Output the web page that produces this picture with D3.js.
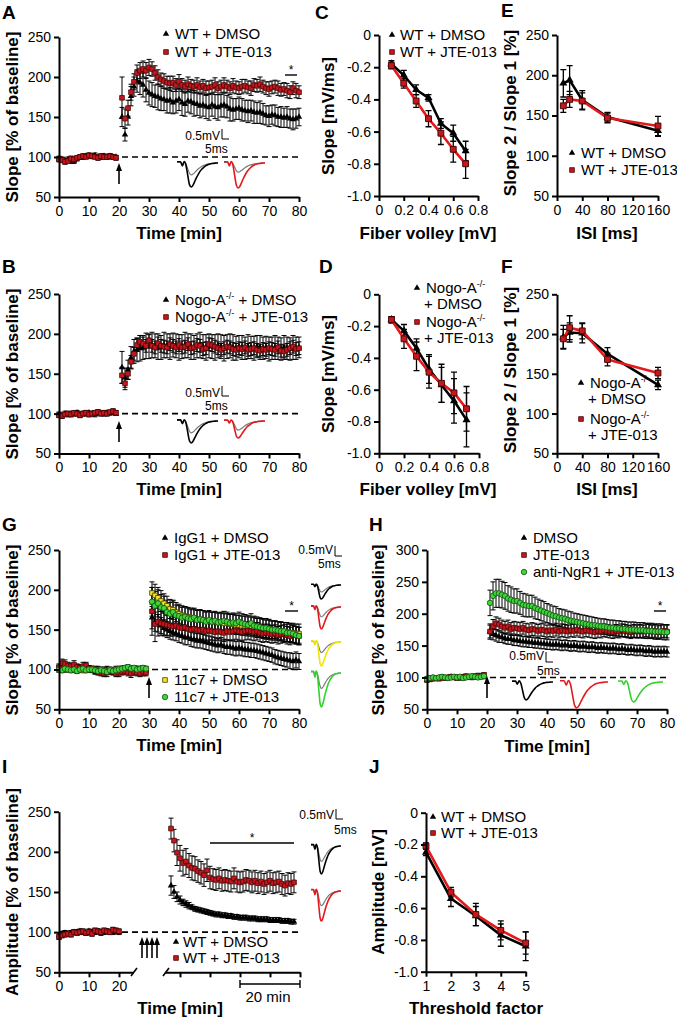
<!DOCTYPE html>
<html>
<head>
<meta charset="utf-8">
<script src="https://cdn.jsdelivr.net/npm/d3@7"></script>
<style>
body { margin: 0; background: #fff; }
svg { font-family: "Liberation Sans", Arial, sans-serif; }
.axis path, .axis line { stroke: #000; stroke-width: 2; }
.axis text { font-family: "Liberation Sans", Arial, sans-serif; font-size: 14px; fill: #000; }
.lab { font-weight: bold; font-size: 19px; }
.ttl { font-weight: bold; font-size: 17px; }
.leg { font-size: 15px; }
.small { font-size: 12px; }
</style>
</head>
<body>
<svg width="677" height="1020"></svg>
<script>
// ---------- data ----------
// A: WT, slope time course (0-19 baseline, 21-80 after HFS)
const aTime = d3.range(0, 20).concat(d3.range(21, 81));
const aDmso = [
  98,97,96,97,96,95,98,99,100,101, 102,101,102,100,100,101,100,101,100,100,
  150,128,150,176,188,195,193,190,184,180, 178,176,175,173,172,170,171,168,170,172,
  168,166,170,169,167,166,164,165,163,162, 165,163,162,164,165,163,160,159,160,161,
  159,158,157,158,156,155,156,154,152,151, 153,152,150,150,149,150,148,147,148,150];
const aDmsoErr = [
  3,3,2,3,4,3,3,2,3,3, 2,3,3,2,3,3,2,3,3,2,
  12,8,10,12,12,14,15,15,15,15, 15,14,16,15,14,15,16,14,15,14,
  16,15,14,15,16,14,15,14,15,16, 14,15,16,14,15,14,15,14,13,14,
  14,13,14,13,14,13,14,13,12,13, 12,13,12,13,12,13,12,13,12,11];
const aJte = [
  97,96,94,95,98,97,99,100,101,100, 102,101,100,99,101,100,100,101,100,99,
  174,148,161,181,194,205,208,210,208,212, 210,205,200,197,195,193,192,193,190,194,
  190,188,191,189,188,190,187,189,186,187, 188,190,186,188,190,188,186,189,187,186,
  188,189,187,186,190,189,191,188,186,185, 187,188,186,184,185,183,181,186,183,181];
const aJteErr = [
  3,3,3,2,3,3,2,3,3,2, 3,3,2,3,3,2,3,3,2,3,
  26,12,10,10,10,10,10,10,10,10, 9,9,9,8,9,8,9,8,8,9,
  8,8,9,8,8,9,8,8,9,8, 8,9,8,8,9,8,8,9,8,8,
  9,8,8,9,8,8,9,8,8,9, 8,8,9,8,8,9,8,8,9,8];

// B: Nogo-A-/-, slope time course
const bTime = d3.range(0, 20).concat(d3.range(21, 81));
const bDmso = [
  99,98,100,99,100,100,101,99,100,100, 101,100,99,101,100,100,101,101,102,100,
  158,145,155,170,178,180,182,183,185,184, 186,185,184,183,186,185,184,186,185,183,
  184,186,185,184,183,185,186,184,183,185, 184,183,185,184,182,184,185,183,182,184,
  183,182,184,183,182,184,183,182,183,181, 182,183,182,181,183,182,181,183,182,183];
const bDmsoErr = [
  3,2,3,3,2,3,3,2,3,3, 2,3,3,2,3,3,2,3,3,2,
  20,12,12,14,15,15,16,15,16,15, 16,15,16,15,16,15,16,15,15,16,
  15,16,15,16,15,15,16,15,16,15, 15,16,15,15,16,15,15,16,15,14,
  15,14,15,14,15,14,15,14,14,15, 14,15,14,14,15,14,14,15,14,13];
const bJte = [
  98,97,99,100,99,101,100,98,100,101, 99,100,101,102,100,101,100,102,103,101,
  148,138,150,165,175,186,190,188,185,192, 185,183,188,185,184,183,187,185,183,186,
  183,184,187,182,183,186,185,181,182,187, 186,184,182,180,182,184,183,181,180,182,
  181,183,180,181,182,180,179,181,180,182, 181,180,183,179,178,180,182,184,181,182];
const bJteErr = [
  3,3,2,3,3,2,3,3,2,3, 3,2,3,3,2,3,3,2,3,3,
  10,8,7,8,8,8,8,8,8,8, 8,8,8,8,8,8,8,8,8,8,
  8,8,8,8,8,8,8,8,8,8, 8,8,8,8,8,8,8,8,8,8,
  8,8,8,8,8,8,8,8,8,8, 8,8,8,8,8,8,8,8,8,8];

// C / D: input-output (fiber volley vs slope)
const fvTicks = [0, 0.2, 0.4, 0.6, 0.8];
const cFv = [0.1, 0.2, 0.3, 0.4, 0.5, 0.6, 0.7];
const cDmso = [-0.18, -0.25, -0.34, -0.39, -0.55, -0.61, -0.72];
const cDmsoErr = [0.02, 0.03, 0.03, 0.02, 0.03, 0.05, 0.06];
const cJte = [-0.19, -0.30, -0.41, -0.52, -0.61, -0.71, -0.80];
const cJteErr = [0.02, 0.03, 0.04, 0.05, 0.07, 0.08, 0.09];
const dFv = [0.1, 0.2, 0.3, 0.4, 0.5, 0.6, 0.7];
const dDmso = [-0.16, -0.23, -0.34, -0.47, -0.57, -0.67, -0.79];
const dDmsoErr = [0.02, 0.04, 0.06, 0.09, 0.11, 0.14, 0.17];
const dJte = [-0.16, -0.28, -0.39, -0.49, -0.56, -0.62, -0.72];
const dJteErr = [0.02, 0.06, 0.09, 0.10, 0.12, 0.13, 0.14];

// E / F: paired pulse ratio
const isiTicks = [0, 40, 80, 120, 160];
const eIsi = [10, 20, 40, 80, 160];
const eDmso = [190, 194, 169, 148, 131];
const eDmsoErr = [17, 18, 12, 6, 7];
const eJte = [162, 170, 168, 147, 137];
const eJteErr = [8, 10, 10, 6, 12];
const fIsi = [10, 20, 40, 80, 160];
const fDmso = [196, 202, 201, 175, 136];
const fDmsoErr = [15, 12, 12, 8, 6];
const fJte = [194, 208, 204, 168, 151];
const fJteErr = [12, 15, 10, 8, 7];

// G: IgG1 / 11c7 (0-29 baseline, 31-80)
const gTime = d3.range(0, 30).concat(d3.range(31, 81));
const gIgDmso = [
  101,102,100,103,101,100,102,101,100,102, 101,100,99,100,98,99,100,99,98,100,
  99,100,101,100,99,100,101,99,100,99,
  165,160,158,155,152,150,148,146,145,143, 142,140,140,138,137,136,136,135,134,133,
  132,131,130,131,129,128,128,127,126,127, 126,125,125,124,124,123,122,121,120,119,
  118,116,115,114,113,112,111,110,112,110];
const gIgDmsoErr = [
  4,4,3,4,4,3,4,4,3,4, 4,3,4,4,3,4,4,3,4,4, 3,4,4,3,4,4,3,4,4,3,
  14,12,11,10,10,10,10,9,9,9, 9,9,9,9,9,9,9,9,9,9,
  9,9,9,9,9,9,9,9,9,9, 9,9,9,9,9,9,9,9,9,9,
  9,9,9,9,9,9,10,10,10,10];
const gIgJte = [
  103,108,107,105,104,106,103,102,104,105, 101,100,99,97,96,95,96,98,97,95,
  96,97,98,96,95,97,96,95,97,96,
  173,157,160,158,157,156,155,154,155,153, 152,153,151,150,151,150,149,150,148,149,
  148,147,148,147,146,148,147,148,149,148, 147,148,149,148,147,148,146,145,146,145,
  144,145,143,144,145,143,142,144,143,142];
const gIgJteErr = [
  4,5,5,4,4,5,4,4,5,4, 4,4,5,4,4,4,5,4,4,4, 5,4,4,4,5,4,4,4,5,4,
  30,22,18,15,14,13,13,12,12,12, 12,12,12,12,12,12,12,12,12,12,
  11,11,11,11,11,11,11,11,11,11, 11,11,11,11,11,11,11,11,11,11,
  11,11,11,11,11,11,11,11,11,11];
const g11Dmso = [
  100,101,100,102,101,100,101,100,99,101, 100,101,100,99,100,99,98,100,99,100,
  101,100,100,101,100,101,100,100,101,100,
  196,193,190,186,183,180,176,175,172,170, 168,167,166,165,164,163,163,162,161,161,
  160,160,159,159,158,158,157,157,156,156, 155,155,154,154,153,152,152,151,150,150,
  149,149,148,148,147,147,146,146,145,145];
const g11DmsoErr = [
  3,3,3,3,3,3,3,3,3,3, 3,3,3,3,3,3,3,3,3,3, 3,3,3,3,3,3,3,3,3,3,
  14,14,13,13,12,12,12,12,12,12, 12,12,12,12,12,12,12,12,12,12,
  12,12,12,12,12,12,12,12,12,12, 12,12,12,12,12,12,12,12,12,12,
  12,12,12,12,12,12,12,12,12,12];
const g11Jte = [
  100,99,101,100,99,100,98,100,101,99, 100,100,99,98,99,98,97,99,98,99,
  100,101,102,103,101,102,100,101,102,101,
  185,180,183,178,177,172,170,172,168,167, 165,166,164,163,165,162,163,162,160,162,
  160,161,159,160,161,160,158,159,158,160, 158,157,156,158,155,154,153,152,152,151,
  150,150,149,148,148,146,146,145,143,142];
const g11JteErr = [
  3,3,3,3,3,3,3,3,3,3, 3,3,3,3,3,3,3,3,3,3, 3,3,3,3,3,3,3,3,3,3,
  18,18,17,16,15,15,14,14,13,13, 13,13,13,12,12,12,12,12,12,12,
  12,12,12,12,12,12,12,12,12,12, 12,12,12,12,12,12,12,12,12,12,
  11,11,11,11,11,11,11,11,11,11];

// H: DMSO / JTE-013 / anti-NgR1 + JTE-013
const hTime = d3.range(0, 20).concat(d3.range(21, 81));
const hDmso = [
  97,98,99,98,99,100,99,100,101,100, 100,99,100,101,100,101,100,101,102,101,
  172,168,166,164,163,161,160,160,158,158, 157,156,156,155,155,154,154,153,153,152,
  152,151,152,151,150,151,150,149,150,149, 148,149,148,147,148,147,146,147,146,146,
  145,146,145,144,145,144,143,144,143,142, 143,142,141,142,141,140,141,140,141,140];
const hDmsoErr = [
  3,3,3,3,3,3,3,3,3,3, 3,3,3,3,3,3,3,3,3,3,
  10,9,9,9,8,8,8,8,8,8, 8,8,8,8,8,8,8,8,8,8,
  8,8,8,8,8,8,8,8,8,8, 8,8,8,8,8,8,8,8,8,8,
  8,8,8,8,8,8,8,8,8,8, 8,8,8,8,8,8,8,8,8,8];
const hJte = [
  96,97,98,99,98,100,99,100,101,100, 99,100,101,102,101,100,102,103,102,104,
  172,180,185,183,180,178,180,176,178,177, 176,178,175,174,176,175,173,175,174,172,
  174,173,175,172,174,173,172,174,173,175, 173,172,174,173,172,171,173,172,174,173,
  172,171,173,172,174,173,172,171,173,172, 173,172,174,173,172,173,171,172,173,172];
const hJteErr = [
  3,3,3,3,3,3,3,3,3,3, 3,3,3,3,3,3,3,3,3,3,
  12,11,10,10,10,10,10,10,10,10, 10,10,10,10,10,10,10,10,10,10,
  10,10,10,10,10,10,10,10,10,10, 10,10,10,10,10,10,10,10,10,10,
  10,10,10,10,10,10,10,10,10,10, 10,10,10,10,10,10,10,10,10,10];
const hNgr = [
  98,99,100,99,100,101,100,99,100,101, 100,101,99,100,101,102,101,100,101,102,
  217,228,232,232,230,228,224,222,220,220, 217,214,213,212,212,209,207,205,203,201,
  199,197,196,194,193,192,190,189,188,187, 186,185,184,183,182,182,181,180,180,179,
  178,178,177,177,176,176,175,175,175,174, 174,174,173,173,173,172,172,172,171,171];
const hNgrErr = [
  3,3,3,3,3,3,3,3,3,3, 3,3,3,3,3,3,3,3,3,3,
  20,22,22,22,21,21,20,20,19,19, 18,18,18,17,17,17,16,16,16,15,
  15,15,15,14,14,14,14,14,13,13, 13,13,13,13,13,12,12,12,12,12,
  12,12,12,12,12,12,12,12,12,12, 12,12,12,12,12,12,12,12,12,12];

// I: amplitude, baseline 0-20 then broken axis (post-tetanus section)
const iBaseTime = d3.range(0, 21);
const iPostTime = d3.range(27, 69);
const iDmsoBase = [96,98,99,98,99,100,100,101,100,99, 101,100,100,101,99,100,101,100,100,101, 100];
const iJteBase = [94,96,97,98,97,100,99,100,101,99, 100,98,102,101,100,102,101,100,103,102, 101];
const iBaseErr = [3,3,3,3,3,3,3,3,3,3, 3,3,3,3,3,3,3,3,3,3, 3];
const iDmsoPost = [
  158,150,144,140,137,135,133,131,129,128, 127,126,125,124,123,122,122,121,121,120,
  120,119,119,118,118,118,117,117,117,116, 116,116,116,115,115,115,115,114,114,114,
  113,113];
const iDmsoPostErr = [
  12,8,6,5,4,4,4,3,3,3, 3,3,3,3,3,3,3,3,3,3,
  3,3,3,3,3,3,3,3,3,3, 3,3,3,3,3,3,3,3,3,3,
  3,3];
const iJtePost = [
  229,214,199,192,186,188,183,180,179,176, 174,171,177,168,166,165,167,164,165,164,
  163,167,163,162,163,165,164,162,164,161, 163,160,162,164,161,162,163,160,158,161,
  160,162];
const iJtePostErr = [
  13,14,16,16,16,16,15,15,15,14, 14,14,14,14,13,13,13,13,13,13,
  13,13,13,13,13,13,13,13,13,13, 13,13,13,13,13,13,13,13,13,13,
  13,13];

// J: amplitude vs stimulus threshold factor
const jTf = [1, 2, 3, 4, 5];
const jDmso = [-0.25, -0.54, -0.65, -0.77, -0.84];
const jDmsoErr = [0.02, 0.05, 0.06, 0.07, 0.09];
const jJte = [-0.21, -0.50, -0.64, -0.74, -0.82];
const jJteErr = [0.02, 0.03, 0.07, 0.06, 0.07];

// ticks
const slopeTicks = [50, 100, 150, 200, 250];
const slopeTicksH = [50, 100, 150, 200, 250, 300];
const timeTicks = [0, 10, 20, 30, 40, 50, 60, 70, 80];
const mvTicks = [-1.0, -0.8, -0.6, -0.4, -0.2, 0];

// representative fEPSP traces (normalised, baseline vs. after LTP)
const waveBase = [0.05,0.05,0.05,-0.12,0.06,-0.05,-0.33,-0.6,-0.7,-0.65,-0.55,-0.44,-0.34,-0.26,-0.19,-0.14,-0.1,-0.07,-0.05,-0.03,-0.02,-0.01,0,0];
const waveLtp = [0.05,0.05,0.05,-0.12,0.06,-0.08,-0.5,-0.9,-1.0,-0.92,-0.76,-0.6,-0.46,-0.34,-0.25,-0.18,-0.12,-0.08,-0.05,-0.03,-0.02,-0.01,0,0];

// ---------- helpers ----------
const svg = d3.select("svg");
svg.append("rect").attr("width", 677).attr("height", 1020).attr("fill", "#fff");

const RED = "#e3191c";
const stTri = { type: d3.symbolTriangle, size: 18, fill: "#000", stroke: "none", sw: 0 };
const stSq = { type: d3.symbolSquare, size: 22, fill: "#c8161d", stroke: "#4a0808", sw: 0.8 };
const stYel = { type: d3.symbolSquare, size: 22, fill: "#f3e22a", stroke: "#4a4400", sw: 0.8 };
const stCirc = { type: d3.symbolCircle, size: 24, fill: "#3fd43a", stroke: "#145214", sw: 0.8 };
const stTriL = { type: d3.symbolTriangle, size: 28, fill: "#000", stroke: "none", sw: 0 };
const stSqL = { type: d3.symbolSquare, size: 34, fill: "#c8161d", stroke: "#4a0808", sw: 1 };

const fmtInt = d3.format("d");
const fmtDec = d => d === 0 ? "0" : d.toFixed(1);

function axisY(scale, x, ticks, fmt) {
  svg.append("g").attr("class", "axis").attr("transform", "translate(" + x + ",0)")
    .call(d3.axisLeft(scale).tickValues(ticks).tickSize(5).tickSizeOuter(0).tickPadding(3).tickFormat(fmt || fmtInt));
}
function axisX(scale, y, ticks, fmt) {
  svg.append("g").attr("class", "axis").attr("transform", "translate(0," + y + ")")
    .call(d3.axisBottom(scale).tickValues(ticks).tickSize(5).tickSizeOuter(0).tickPadding(4).tickFormat(fmt || fmtInt));
}
function errBars(xs, ys, t, v, e, cap, w) {
  svg.append("path")
    .attr("d", t.map(function(tt, i) {
      var x = xs(tt), y1 = ys(v[i] + e[i]), y2 = ys(v[i] - e[i]);
      return "M" + x + "," + y1 + "V" + y2 + "M" + (x - cap) + "," + y1 + "H" + (x + cap) +
             "M" + (x - cap) + "," + y2 + "H" + (x + cap);
    }).join(""))
    .attr("fill", "none").attr("stroke", "#000").attr("stroke-width", w);
}
function markers(xs, ys, t, v, st) {
  svg.append("g").selectAll("path").data(t).join("path")
    .attr("transform", function(tt, i) { return "translate(" + xs(tt) + "," + ys(v[i]) + ")"; })
    .attr("d", d3.symbol().type(st.type).size(st.size))
    .attr("fill", st.fill).attr("stroke", st.stroke).attr("stroke-width", st.sw);
}
function linePath(xs, ys, t, v, color, w) {
  svg.append("path").datum(t)
    .attr("d", d3.line().x(function(d) { return xs(d); }).y(function(d, i) { return ys(v[i]); }))
    .attr("fill", "none").attr("stroke", color).attr("stroke-width", w).attr("stroke-linejoin", "round");
}
function label(x, y, txt) {
  svg.append("text").attr("class", "lab").attr("x", x).attr("y", y).text(txt);
}
function yTitle(x, y, txt) {
  svg.append("text").attr("class", "ttl")
    .attr("transform", "translate(" + x + "," + y + ") rotate(-90)")
    .attr("text-anchor", "middle").attr("dominant-baseline", "central").text(txt);
}
function xTitle(x, y, txt) {
  svg.append("text").attr("class", "ttl").attr("x", x).attr("y", y)
    .attr("text-anchor", "middle").attr("dominant-baseline", "central").text(txt);
}
// legend row: marker + text, text may hold "-/-" superscript after the first part
function legRow(mx, my, st, tx, parts) {
  if (st) {
    svg.append("path").attr("transform", "translate(" + mx + "," + my + ")")
      .attr("d", d3.symbol().type(st.type).size(st.size))
      .attr("fill", st.fill).attr("stroke", st.stroke).attr("stroke-width", st.sw);
  }
  var t = svg.append("text").attr("class", "leg").attr("x", tx).attr("y", my + 5);
  t.append("tspan").text(parts[0]);
  if (parts.length > 1) {
    t.append("tspan").attr("font-size", 9).attr("dy", -6).text("-/-");
    t.append("tspan").attr("dy", 6).text(parts[1]);
  }
}
function dashed(x1, x2, y) {
  svg.append("line").attr("x1", x1).attr("x2", x2).attr("y1", y).attr("y2", y)
    .attr("stroke", "#000").attr("stroke-width", 1.6).attr("stroke-dasharray", "6,4");
}
function arrow(x, yTail, yHead) {
  svg.append("line").attr("x1", x).attr("x2", x).attr("y1", yTail).attr("y2", yHead + 5)
    .attr("stroke", "#000").attr("stroke-width", 1.6);
  svg.append("path").attr("d", "M" + x + "," + yHead + "l-3,8h6z").attr("fill", "#000");
}
function star(x1, x2, y) {
  svg.append("line").attr("x1", x1).attr("x2", x2).attr("y1", y).attr("y2", y)
    .attr("stroke", "#000").attr("stroke-width", 1.4);
  svg.append("text").attr("class", "small").attr("x", (x1 + x2) / 2).attr("y", y - 1)
    .attr("text-anchor", "middle").text("*");
}
function scaleBar(bx, by, ty1, tx2, ty2) {
  svg.append("text").attr("class", "small").attr("x", bx - 2).attr("y", ty1)
    .attr("text-anchor", "end").attr("dominant-baseline", "central").text("0.5mV");
  svg.append("path").attr("d", "M" + bx + "," + (by - 10) + "V" + by + "H" + (bx + 7))
    .attr("fill", "none").attr("stroke", "#000").attr("stroke-width", 1);
  svg.append("text").attr("class", "small").attr("x", tx2).attr("y", ty2)
    .attr("dominant-baseline", "central").text("5ms");
}
function trace(vals, x0, x1, y0, depth, color, w) {
  var tx = d3.scaleLinear().domain([0, vals.length - 1]).range([x0, x1]);
  var ty = d3.scaleLinear().domain([-1, 0]).range([y0 + depth, y0]);
  svg.append("path").datum(vals)
    .attr("d", d3.line().x(function(d, i) { return tx(i); }).y(function(d) { return ty(d); }).curve(d3.curveMonotoneX))
    .attr("fill", "none").attr("stroke", color).attr("stroke-width", w);
}
function tracePair(x0, x1, y0, dBase, dLtp, color) {
  trace(waveBase, x0, x1, y0, dBase, "#7d7d7d", 1.2);
  trace(waveLtp, x0, x1, y0, dLtp, color, 1.6);
}

// ---------- A ----------
const xA = d3.scaleLinear().domain([0, 80]).range([59, 299]);
const yA = d3.scaleLinear().domain([50, 250]).range([197, 37]);
dashed(xA(21), xA(80), yA(100));
errBars(xA, yA, aTime, aDmso, aDmsoErr, 2.5, 1);
errBars(xA, yA, aTime, aJte, aJteErr, 2.5, 1);
markers(xA, yA, aTime, aDmso, stTri);
markers(xA, yA, aTime, aJte, stSq);
axisY(yA, 59, slopeTicks);
axisX(xA, 197, timeTicks);
arrow(xA(20), 184, 163);
star(285, 297, 75);
legRow(166, 34, stTri, 175, ["WT + DMSO"]);
legRow(166, 52, stSq, 175, ["WT + JTE-013"]);
scaleBar(222, 139, 136, 205, 149);
tracePair(177, 218, 163, 17, 24, "#000");
tracePair(224, 265, 163, 13, 25, RED);
label(2, 19, "A");
yTitle(12, 117, "Slope [% of baseline]");
xTitle(179, 233, "Time [min]");

// ---------- B ----------
const xB = d3.scaleLinear().domain([0, 80]).range([59, 299]);
const yB = d3.scaleLinear().domain([50, 250]).range([453.5, 294]);
dashed(xB(21), xB(80), yB(100));
errBars(xB, yB, bTime, bDmso, bDmsoErr, 2.5, 1);
errBars(xB, yB, bTime, bJte, bJteErr, 2.5, 1);
markers(xB, yB, bTime, bDmso, stTri);
markers(xB, yB, bTime, bJte, stSq);
axisY(yB, 59, slopeTicks);
axisX(xB, 453.5, timeTicks);
arrow(xB(20), 442, 421);
legRow(166, 300, stTri, 175, ["Nogo-A", " + DMSO"]);
legRow(166, 317, stSq, 175, ["Nogo-A", " + JTE-013"]);
scaleBar(222, 396, 393, 205, 406);
tracePair(177, 218, 421, 17, 22, "#000");
tracePair(224, 265, 421, 13, 17, RED);
label(2, 273, "B");
yTitle(12, 374, "Slope [% of baseline]");
xTitle(179, 489, "Time [min]");

// ---------- C ----------
const xC = d3.scaleLinear().domain([0, 0.8]).range([379, 478]);
const yC = d3.scaleLinear().domain([-1, 0]).range([196, 35]);
errBars(xC, yC, cFv, cDmso, cDmsoErr, 3, 1.3);
linePath(xC, yC, cFv, cDmso, "#000", 2.6);
markers(xC, yC, cFv, cDmso, stTriL);
errBars(xC, yC, cFv, cJte, cJteErr, 3, 1.3);
linePath(xC, yC, cFv, cJte, RED, 2.6);
markers(xC, yC, cFv, cJte, stSqL);
axisY(yC, 379, mvTicks, fmtDec);
axisX(xC, 196, fvTicks, fmtDec);
legRow(392, 35, stTri, 400, ["WT + DMSO"]);
legRow(392, 52, stSq, 400, ["WT + JTE-013"]);
label(315, 19, "C");
yTitle(328, 116, "Slope [mV/ms]");
xTitle(428, 233, "Fiber volley [mV]");

// ---------- D ----------
const xD = d3.scaleLinear().domain([0, 0.8]).range([379, 479]);
const yD = d3.scaleLinear().domain([-1, 0]).range([453.3, 294.3]);
errBars(xD, yD, dFv, dDmso, dDmsoErr, 3, 1.3);
linePath(xD, yD, dFv, dDmso, "#000", 2.6);
markers(xD, yD, dFv, dDmso, stTriL);
errBars(xD, yD, dFv, dJte, dJteErr, 3, 1.3);
linePath(xD, yD, dFv, dJte, RED, 2.6);
markers(xD, yD, dFv, dJte, stSqL);
axisY(yD, 379, mvTicks, fmtDec);
axisX(xD, 453.3, fvTicks, fmtDec);
legRow(417, 288, stTri, 426, ["Nogo-A", ""]);
legRow(0, 304, null, 424, ["+ DMSO"]);
legRow(417, 322, stSq, 426, ["Nogo-A", ""]);
legRow(0, 338, null, 424, ["+ JTE-013"]);
label(319, 273, "D");
yTitle(328, 374, "Slope [mV/ms]");
xTitle(428, 489, "Fiber volley [mV]");

// ---------- E ----------
const xE = d3.scaleLinear().domain([0, 160]).range([557, 658]);
const yE = d3.scaleLinear().domain([50, 250]).range([196, 35]);
errBars(xE, yE, eIsi, eDmso, eDmsoErr, 3, 1.3);
linePath(xE, yE, eIsi, eDmso, "#000", 2.6);
markers(xE, yE, eIsi, eDmso, stTriL);
errBars(xE, yE, eIsi, eJte, eJteErr, 3, 1.3);
linePath(xE, yE, eIsi, eJte, RED, 2.6);
markers(xE, yE, eIsi, eJte, stSqL);
axisY(yE, 557, slopeTicks);
axisX(xE, 196, isiTicks);
legRow(572, 153, stTri, 581, ["WT + DMSO"]);
legRow(572, 170, stSq, 581, ["WT + JTE-013"]);
label(501, 17, "E");
yTitle(510, 113, "Slope 2 / Slope 1 [%]");
xTitle(607, 233, "ISI [ms]");

// ---------- F ----------
const xF = d3.scaleLinear().domain([0, 160]).range([557, 658]);
const yF = d3.scaleLinear().domain([50, 250]).range([453.3, 294.3]);
errBars(xF, yF, fIsi, fDmso, fDmsoErr, 3, 1.3);
linePath(xF, yF, fIsi, fDmso, "#000", 2.6);
markers(xF, yF, fIsi, fDmso, stTriL);
errBars(xF, yF, fIsi, fJte, fJteErr, 3, 1.3);
linePath(xF, yF, fIsi, fJte, RED, 2.6);
markers(xF, yF, fIsi, fJte, stSqL);
axisY(yF, 557, slopeTicks);
axisX(xF, 453.3, isiTicks);
legRow(581, 383, stTri, 590, ["Nogo-A", ""]);
legRow(0, 399, null, 588, ["+ DMSO"]);
legRow(581, 419, stSq, 590, ["Nogo-A", ""]);
legRow(0, 435, null, 588, ["+ JTE-013"]);
label(501, 273, "F");
yTitle(510, 370, "Slope 2 / Slope 1 [%]");
xTitle(607, 489, "ISI [ms]");

// ---------- G ----------
const xG = d3.scaleLinear().domain([0, 80]).range([59, 299]);
const yG = d3.scaleLinear().domain([50, 250]).range([709.3, 550]);
dashed(xG(31), xG(80), yG(100));
errBars(xG, yG, gTime, gIgDmso, gIgDmsoErr, 2.5, 1);
errBars(xG, yG, gTime, gIgJte, gIgJteErr, 2.5, 1);
errBars(xG, yG, gTime, g11Dmso, g11DmsoErr, 2.5, 1);
errBars(xG, yG, gTime, g11Jte, g11JteErr, 2.5, 1);
markers(xG, yG, gTime, gIgDmso, stTri);
markers(xG, yG, gTime, g11Dmso, stYel);
markers(xG, yG, gTime, gIgJte, stSq);
markers(xG, yG, gTime, g11Jte, stCirc);
axisY(yG, 59, slopeTicks);
axisX(xG, 709.3, timeTicks);
arrow(xG(30), 698, 677);
star(285, 298, 611);
legRow(165, 538, stTri, 174, ["IgG1 + DMSO"]);
legRow(165, 555, stSq, 174, ["IgG1 + JTE-013"]);
legRow(165, 680, stYel, 174, ["11c7 + DMSO"]);
legRow(165, 697, stCirc, 174, ["11c7 + JTE-013"]);
scaleBar(335, 556, 550, 318, 564);
tracePair(311, 341, 585, 10, 14, "#000");
tracePair(311, 341, 607, 14, 22, RED);
tracePair(311, 341, 642, 15, 24, "#f2e600");
tracePair(311, 341, 673, 22, 34, "#34d12c");
label(2, 531, "G");
yTitle(12, 630, "Slope [% of baseline]");
xTitle(179, 745, "Time [min]");

// ---------- H ----------
const xH = d3.scaleLinear().domain([0, 80]).range([427, 667]);
const yH = d3.scaleLinear().domain([50, 300]).range([709.3, 550]);
dashed(xH(21), xH(80), yH(100));
errBars(xH, yH, hTime, hDmso, hDmsoErr, 2.5, 1);
errBars(xH, yH, hTime, hJte, hJteErr, 2.5, 1);
errBars(xH, yH, hTime, hNgr, hNgrErr, 2.5, 1);
markers(xH, yH, hTime, hDmso, stTri);
markers(xH, yH, hTime, hJte, stSq);
markers(xH, yH, hTime, hNgr, stCirc);
axisY(yH, 427, slopeTicksH);
axisX(xH, 709.3, timeTicks);
arrow(xH(20), 698, 676);
star(654, 666, 611);
legRow(524, 538, stTri, 533, ["DMSO"]);
legRow(524, 555, stSq, 533, ["JTE-013"]);
legRow(524, 572, stCirc, 533, ["anti-NgR1 + JTE-013"]);
scaleBar(546, 662, 656, 537, 671);
trace(waveLtp, 512, 553, 682, 18, "#000", 1.6);
trace(waveLtp, 560, 608, 682, 26, RED, 1.6);
trace(waveLtp, 618, 663, 682, 20, "#34d12c", 1.6);
label(369, 531, "H");
yTitle(378, 630, "Slope [% of baseline]");
xTitle(547, 746, "Time [min]");

// ---------- I ----------
const xI1 = d3.scaleLinear().domain([0, 24.67]).range([59, 133]);
const xI2 = d3.scaleLinear().domain([25, 70]).range([165, 300]);
const yI = d3.scaleLinear().domain([50, 250]).range([972.3, 811.7]);
dashed(122, 300, yI(100));
errBars(xI1, yI, iBaseTime, iDmsoBase, iBaseErr, 2.5, 1);
errBars(xI1, yI, iBaseTime, iJteBase, iBaseErr, 2.5, 1);
errBars(xI2, yI, iPostTime, iDmsoPost, iDmsoPostErr, 2.5, 1);
errBars(xI2, yI, iPostTime, iJtePost, iJtePostErr, 2.5, 1);
markers(xI1, yI, iBaseTime, iDmsoBase, stTri);
markers(xI1, yI, iBaseTime, iJteBase, stSq);
markers(xI2, yI, iPostTime, iDmsoPost, stTri);
markers(xI2, yI, iPostTime, iJtePost, stSq);
axisY(yI, 59, slopeTicks);
axisX(xI1, 972.3, [0, 10, 20]);
axisX(xI2, 972.3, [30, 40, 50, 60, 70], function() { return ""; });
// axis break marks
svg.append("path").attr("d", "M131,976L137,968M163,976L169,968")
  .attr("stroke", "#000").attr("stroke-width", 1.6).attr("fill", "none");
[142, 147, 152, 157].forEach(function(x) { arrow(x, 958, 937); });
star(210, 294, 843);
legRow(176, 942, stTri, 183, ["WT + DMSO"]);
legRow(176, 958, stSq, 183, ["WT + JTE-013"]);
// 20 min scale
svg.append("path").attr("d", "M" + xI2(50) + ",984H" + xI2(70) + "M" + xI2(50) + ",980V988M" + xI2(70) + ",980V988")
  .attr("stroke", "#000").attr("stroke-width", 1.4).attr("fill", "none");
svg.append("text").attr("class", "leg").attr("x", 268).attr("y", 996)
  .attr("text-anchor", "middle").attr("dominant-baseline", "central").text("20 min");
scaleBar(336, 819, 815, 334, 830);
tracePair(311, 341, 846, 22, 28, "#000");
tracePair(311, 341, 891, 21, 30, RED);
label(2, 773, "I");
yTitle(12, 892, "Amplitude [% of baseline]");
xTitle(180, 1008, "Time [min]");

// ---------- J ----------
const xJ = d3.scaleLinear().domain([1, 5]).range([426, 525.7]);
const yJ = d3.scaleLinear().domain([-1, 0]).range([971.7, 812.7]);
errBars(xJ, yJ, jTf, jDmso, jDmsoErr, 3, 1.3);
linePath(xJ, yJ, jTf, jDmso, "#000", 2.6);
markers(xJ, yJ, jTf, jDmso, stTriL);
errBars(xJ, yJ, jTf, jJte, jJteErr, 3, 1.3);
linePath(xJ, yJ, jTf, jJte, RED, 2.6);
markers(xJ, yJ, jTf, jJte, stSqL);
axisY(yJ, 426, mvTicks, fmtDec);
axisX(xJ, 971.7, jTf);
legRow(433, 817, stTri, 441, ["WT + DMSO"]);
legRow(433, 833, stSq, 441, ["WT + JTE-013"]);
label(369, 773, "J");
yTitle(378, 892, "Amplitude [mV]");
xTitle(476, 1008, "Threshold factor");
</script>
</body>
</html>
